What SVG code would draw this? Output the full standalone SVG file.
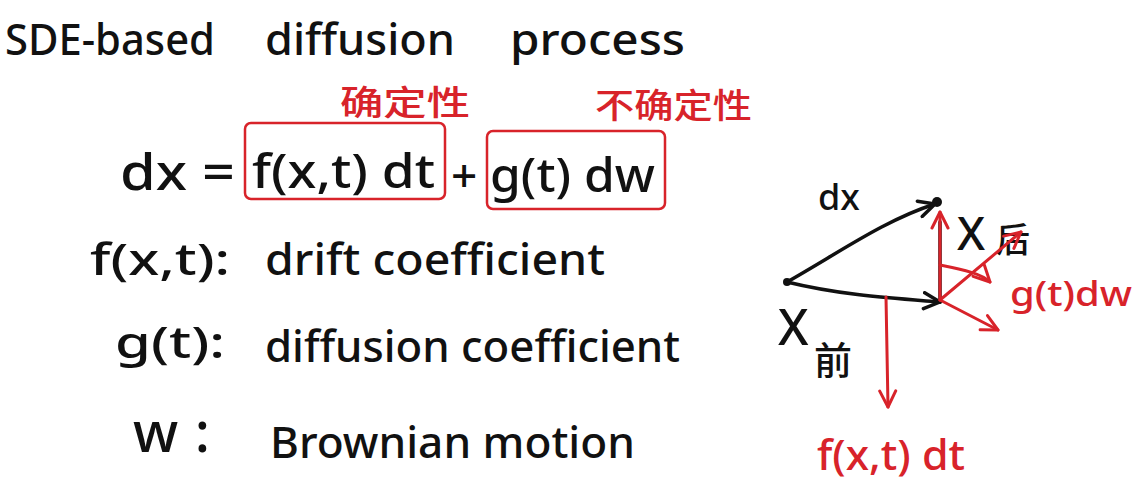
<svg xmlns="http://www.w3.org/2000/svg" width="1137" height="491" viewBox="0 0 1137 491">
<defs>
<style>
.k{fill:#111;font-family:"Noto Sans","Liberation Sans",sans-serif;font-weight:500;}
.r{fill:#d8232a;font-family:"Noto Sans","Liberation Sans",sans-serif;font-weight:500;}
.cjk{fill:#d8232a;font-family:"Noto Sans CJK SC","Noto Sans",sans-serif;font-weight:500;}
.kc{fill:#111;font-family:"Noto Sans CJK SC","Noto Sans",sans-serif;font-weight:500;}
.box{fill:none;stroke:#d8232a;stroke-width:2.5;}
.lk{fill:none;stroke:#111;stroke-width:3.5;stroke-linecap:round;}
.lr{fill:none;stroke:#d8232a;stroke-width:3;stroke-linecap:round;}
</style>
<marker id="ak" viewBox="0 0 20 20" refX="18" refY="10" markerWidth="20" markerHeight="20" markerUnits="userSpaceOnUse" orient="auto">
<path d="M2,2 L18,10 L2,18" fill="none" stroke="#111" stroke-width="3.5" stroke-linecap="round" stroke-linejoin="round"/>
</marker>
<marker id="ar" viewBox="0 0 20 20" refX="18" refY="10" markerWidth="20" markerHeight="20" markerUnits="userSpaceOnUse" orient="auto">
<path d="M2,2 L18,10 L2,18" fill="none" stroke="#d8232a" stroke-width="3" stroke-linecap="round" stroke-linejoin="round"/>
</marker>
</defs>
<rect width="1137" height="491" fill="#ffffff"/>

<g id="title">
<text class="k" x="5" y="55" font-size="44" textLength="210" lengthAdjust="spacingAndGlyphs">SDE-based</text>
<text class="k" x="265" y="55" font-size="44" textLength="190" lengthAdjust="spacingAndGlyphs">diffusion</text>
<text class="k" x="510" y="55" font-size="44" textLength="175" lengthAdjust="spacingAndGlyphs">process</text>
</g>

<g id="equation">
<text class="k" x="120" y="190" font-size="50" textLength="115" lengthAdjust="spacingAndGlyphs">dx =</text>
<text class="k" x="451" y="192" font-size="46">+</text>
</g>

<g id="term-drift">
<rect class="box" x="245" y="123" width="200" height="76" rx="6"/>
<text class="k" x="252" y="188" font-size="48" textLength="183" lengthAdjust="spacingAndGlyphs">f(x,t) dt</text>
<text class="cjk" x="340" y="115" font-size="34" textLength="130" lengthAdjust="spacingAndGlyphs">确定性</text>
</g>

<g id="term-diffusion">
<rect class="box" x="487" y="131" width="178" height="78" rx="6"/>
<text class="k" x="490" y="192" font-size="48" textLength="165" lengthAdjust="spacingAndGlyphs">g(t) dw</text>
<text class="cjk" x="595" y="118" font-size="34" textLength="157" lengthAdjust="spacingAndGlyphs">不确定性</text>
</g>

<g id="def-f">
<text class="k" x="90" y="275" font-size="44" textLength="140" lengthAdjust="spacingAndGlyphs">f(x,t):</text>
<text class="k" x="265" y="275" font-size="44" textLength="340" lengthAdjust="spacingAndGlyphs">drift coefficient</text>
</g>

<g id="def-g">
<text class="k" x="115" y="358" font-size="44" textLength="110" lengthAdjust="spacingAndGlyphs">g(t):</text>
<text class="k" x="265" y="362" font-size="44" textLength="415" lengthAdjust="spacingAndGlyphs">diffusion coefficient</text>
</g>

<g id="def-w">
<text class="k" x="133" y="452" font-size="56" textLength="77" lengthAdjust="spacing">w:</text>
<text class="k" x="270" y="458" font-size="44" textLength="365" lengthAdjust="spacingAndGlyphs">Brownian motion</text>
</g>

<g id="x-before">
<circle cx="787" cy="282" r="4" fill="#111"/>
<text class="k" x="778" y="345" font-size="50">X</text>
<text class="kc" x="814" y="374" font-size="38">前</text>
</g>

<g id="x-after">
<circle cx="937" cy="202" r="5" fill="#111"/>
<text class="k" x="957" y="250" font-size="46">X</text>
<text class="kc" x="996" y="252" font-size="34">后</text>
</g>

<g id="label-dx">
<text class="k" x="818" y="210" font-size="36">dx</text>
</g>

<g id="label-gdw">
<text class="r" x="1010" y="306" font-size="34" textLength="122" lengthAdjust="spacingAndGlyphs">g(t)dw</text>
</g>

<g id="label-fdt">
<text class="r" x="817" y="470" font-size="42" textLength="148" lengthAdjust="spacingAndGlyphs">f(x,t) dt</text>
</g>

<g id="connectors">
<path class="lk" d="M787,282 C840,252 885,220 935,204" marker-end="url(#ak)"/>
<path class="lk" d="M787,282 C840,295 890,298 940,302" marker-end="url(#ak)"/>
<path class="lk" d="M940,302 L940,222"/>
<path class="lr" d="M940,300 L940,212" marker-end="url(#ar)"/>
<path class="lr" d="M940,300 L1021,232" marker-end="url(#ar)"/>
<path class="lr" d="M940,300 L998,330" marker-end="url(#ar)"/>
<path class="lr" d="M940,265 C965,270 982,274 990,282" marker-end="url(#ar)"/>
<path class="lr" d="M886,297 L888,407" marker-end="url(#ar)"/>
</g>
</svg>
